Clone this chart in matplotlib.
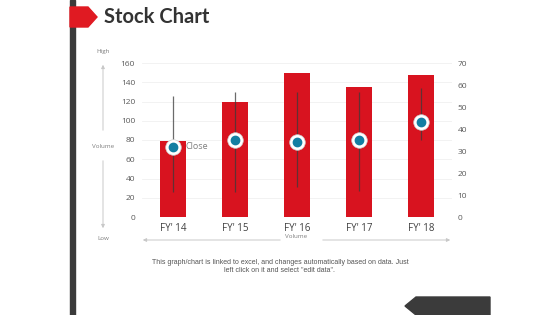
import matplotlib
matplotlib.use('Agg')
import matplotlib.pyplot as plt
from matplotlib.patches import Polygon, Rectangle

# data
categories = ["FY' 14", "FY' 15", "FY' 16", "FY' 17", "FY' 18"]
volume = [79, 120, 150, 135, 148]
high = [55, 57, 57, 57, 58.5]
low = [11.5, 11.5, 13.5, 12, 35]
close = [32, 35, 34, 35, 43]

W, H = 560, 315

def fx(px):
    return px / W

def fy(py):
    return 1 - py / H

plt.rcParams['font.family'] = ['Open Sans', 'DejaVu Sans']

fig = plt.figure(figsize=(5.6, 3.15), dpi=100)
fig.patch.set_facecolor('white')

# decoration: left dark bar, red tag, bottom-right tab
fig.patches.append(Rectangle((fx(70), 0), fx(5), 1, transform=fig.transFigure,
                             color='#3b3b3b', zorder=1))
fig.patches.append(Polygon([(fx(70), fy(7)), (fx(88), fy(7)), (fx(97), fy(17)),
                            (fx(88), fy(27)), (fx(70), fy(27))],
                           closed=True, transform=fig.transFigure,
                           color='#e01a22', zorder=2))
fig.patches.append(Polygon([(fx(416), fy(297)), (fx(490), fy(297)), (fx(490), fy(315)),
                            (fx(416), fy(315)), (fx(405), fy(306))],
                           closed=True, transform=fig.transFigure,
                           color='#3b3b3b', zorder=1))

fig.text(fx(104), fy(17), 'Stock Chart', fontsize=14.5, fontweight='bold',
         color='#333333', va='center', ha='left', family=['Lato', 'DejaVu Sans'])

ax = fig.add_axes([fx(142), fy(217), fx(452) - fx(142), (217 - 63) / H])
ax2 = ax.twinx()

x = range(len(categories))
ax.bar(x, volume, width=0.42, color='#d8131f', zorder=2)
ax.set_ylim(0, 160)
ax.set_yticks(range(0, 161, 20))
ax.set_xlim(-0.5, len(categories) - 0.5)
ax.set_xticks(list(x))
ax.set_xticklabels(categories)
ax.grid(axis='y', color='#f0f0f0', lw=0.6, zorder=0)
ax.set_axisbelow(True)

ax2.vlines(x, low, high, color='#3a3a3a', lw=0.9, alpha=0.75, zorder=3)
ax2.scatter(x, close, s=125, color='white', edgecolors='#d0d0d0', linewidths=0.5, zorder=4)
ax2.scatter(x, close, s=36, color='#137ea2', zorder=5)
ax2.set_ylim(0, 70)
ax2.set_yticks(range(0, 71, 10))
ax2.annotate('Close', (0, close[0]), xytext=(9, 0), textcoords='offset points',
             fontsize=6.5, color='#7f7f7f', va='center', ha='left')

for a in (ax, ax2):
    for s in a.spines.values():
        s.set_visible(False)
    a.tick_params(length=0, labelsize=6, labelcolor='#595959')
ax.tick_params(axis='y', pad=5)
ax2.tick_params(axis='y', pad=4)
ax.tick_params(axis='x', labelsize=7, labelcolor='#404040', pad=4.5)

# axis hints
grey = '#c8c8c8'
txt = '#7f7f7f'
fig.text(fx(103), fy(51), 'High', fontsize=4.5, color=txt, ha='center', va='center')
fig.text(fx(103), fy(146), 'Volume', fontsize=4.5, color=txt, ha='center', va='center')
fig.text(fx(103), fy(238), 'Low', fontsize=4.5, color=txt, ha='center', va='center')
fig.text(fx(296), fy(237), 'Volume', fontsize=4.5, color=txt, ha='center', va='center')
arrow = dict(arrowstyle='-|>', color=grey, lw=0.7, mutation_scale=5)
fig.add_artist(matplotlib.patches.FancyArrowPatch((fx(103), fy(133)), (fx(103), fy(62)),
                                                  transform=fig.transFigure, **arrow))
fig.add_artist(matplotlib.patches.FancyArrowPatch((fx(103), fy(158)), (fx(103), fy(231)),
                                                  transform=fig.transFigure, **arrow))
fig.add_artist(matplotlib.patches.FancyArrowPatch((fx(283), fy(240)), (fx(140), fy(240)),
                                                  transform=fig.transFigure, **arrow))
fig.add_artist(matplotlib.patches.FancyArrowPatch((fx(320), fy(240)), (fx(453), fy(240)),
                                                  transform=fig.transFigure, **arrow))

fig.text(fx(280), fy(266),
         'This graph/chart is linked to excel, and changes automatically based on data. Just\n'
         'left click on it and select "edit data".',
         fontsize=5, color='#555555', ha='center', va='center', linespacing=1.2,
         family=['Liberation Sans', 'DejaVu Sans'])

fig.savefig('out.png', dpi=100)
